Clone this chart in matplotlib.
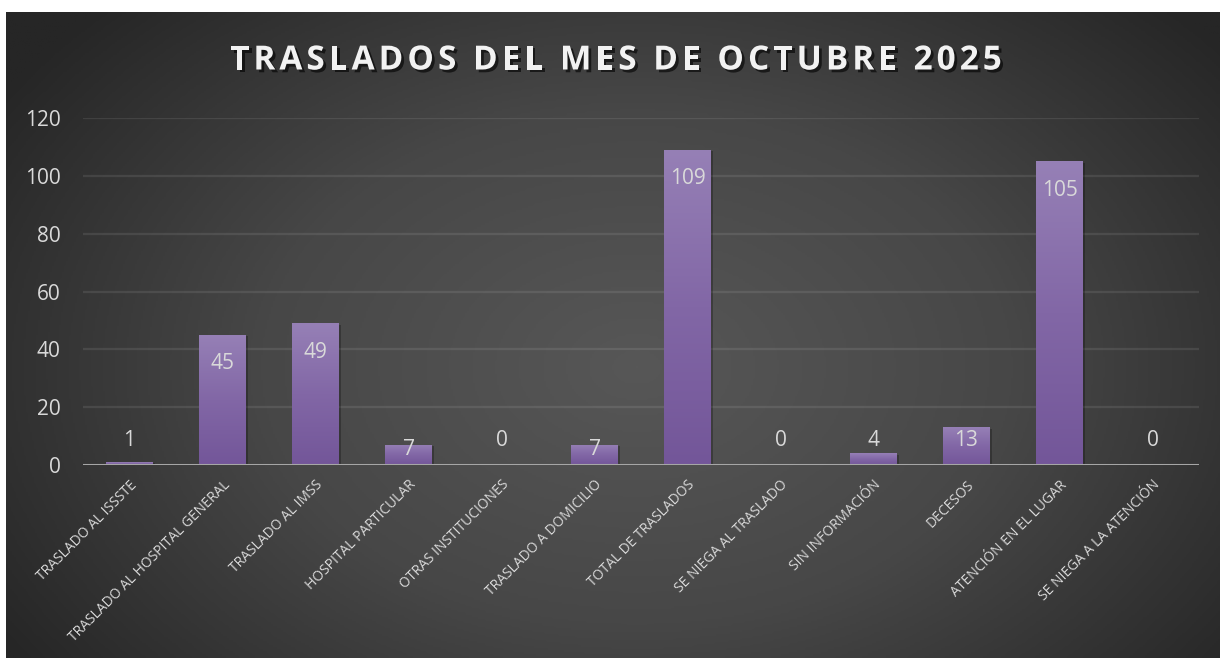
import numpy as np
import matplotlib
matplotlib.use("Agg")
import matplotlib.pyplot as plt
from matplotlib.colors import LinearSegmentedColormap
from matplotlib.font_manager import FontProperties
import matplotlib.patheffects as pe

# datos del mes
categorias = ['TRASLADO AL ISSSTE', 'TRASLADO AL HOSPITAL GENERAL', 'TRASLADO AL IMSS',
              'HOSPITAL PARTICULAR', 'OTRAS INSTITUCIONES', 'TRASLADO A DOMICILIO',
              'TOTAL DE TRASLADOS', 'SE NIEGA AL TRASLADO', 'SIN INFORMACIÓN',
              'DECESOS', 'ATENCIÓN EN EL LUGAR', 'SE NIEGA A LA ATENCIÓN']
valores = [1, 45, 49, 7, 0, 7, 109, 0, 4, 13, 105, 0]
titulo = 'TRASLADOS DEL MES DE OCTUBRE 2025'
y_ticks = [0, 20, 40, 60, 80, 100, 120]

plt.rcParams['font.family'] = ['Open Sans', 'DejaVu Sans']
W, H = 1220, 658
fig = plt.figure(figsize=(W / 100, H / 100), dpi=100, facecolor='white')

# fondo del grafico con degradado radial
bg = fig.add_axes([6 / W, 0, 1 - 6 / W, 1 - 12 / H])
bg.set_axis_off()
yy, xx = np.mgrid[0:1:300j, 0:1:600j]
r = np.sqrt(((xx - 0.52) / 0.62) ** 2 + ((yy - 0.55) / 0.8) ** 2)
r = np.clip(r, 0, 1)
bg_cmap = LinearSegmentedColormap.from_list('bg', ['#575757', '#474747', '#262626'])
bg.imshow(r, cmap=bg_cmap, aspect='auto', extent=[0, 1, 0, 1], vmin=0, vmax=1)
bg.set_xlim(0, 1)
bg.set_ylim(0, 1)

ax = fig.add_axes([83 / W, 1 - 465 / H, (1199 - 83) / W, (465 - 118) / H])
ax.patch.set_alpha(0)
x = np.arange(len(categorias))
ax.set_xlim(-0.5, len(categorias) - 0.5)
ax.set_ylim(0, 120)

for t in y_ticks[1:]:
    ax.axhline(t, color='white', alpha=0.09, lw=1.6, zorder=1)

bar_cmap = LinearSegmentedColormap.from_list('bar', ['#735699', '#8267a6', '#9680b6'])
grad = np.linspace(0, 1, 256).reshape(-1, 1)
bars = ax.bar(x, valores, width=0.5, color='#8267a6', zorder=2,
              path_effects=[pe.SimplePatchShadow(offset=(1.5, -1), alpha=0.25, shadow_rgbFace='black'),
                            pe.Normal()])
for b, v in zip(bars, valores):
    if v <= 0:
        continue
    img = ax.imshow(grad, cmap=bar_cmap, aspect='auto', origin='lower',
                    extent=[b.get_x(), b.get_x() + b.get_width(), 0, v], zorder=3)
    img.set_clip_path(b)

ax.axhline(0, color='#a6a6a6', lw=2.2, zorder=4)

# etiquetas de datos
for xi, v in zip(x, valores):
    if v >= 20:
        ly = v - 10
    elif v >= 10:
        ly = v - 4.5
    elif v >= 5:
        ly = v - 1.8
    else:
        ly = 8.6
    ax.text(xi, ly, str(v), ha='center', va='center', color='#d9d9d9',
            fontsize=15, zorder=5)

ax.set_yticks(y_ticks)
ax.set_xticks(x)
ax.set_xticklabels(categorias, rotation=45, ha='right', rotation_mode='anchor',
                   fontsize=10, color='#d9d9d9')
ax.tick_params(axis='y', length=0, labelsize=15, labelcolor='#d9d9d9', pad=16)
ax.tick_params(axis='x', length=0, pad=9)
for s in ax.spines.values():
    s.set_visible(False)

# titulo con espaciado entre letras
fig.canvas.draw()
renderer = fig.canvas.get_renderer()
fp = FontProperties(family=['Open Sans', 'DejaVu Sans'], weight='bold', size=24)
espacio = 4.0
ancho_total = renderer.get_text_width_height_descent(titulo, fp, ismath=False)[0] + espacio * (len(titulo) - 1)
x0 = 616 - ancho_total / 2
ty = 1 - 61 / H
for i, ch in enumerate(titulo):
    pref = renderer.get_text_width_height_descent(titulo[:i], fp, ismath=False)[0] if i else 0
    px = x0 + pref + espacio * i
    fig.text(px / W, ty, ch, fontproperties=fp, color='#f2f2f2', ha='left', va='center',
             path_effects=[pe.withSimplePatchShadow(offset=(2, -2), alpha=0.6, shadow_rgbFace='black')])

fig.savefig('out.png', dpi=100, facecolor='white')
